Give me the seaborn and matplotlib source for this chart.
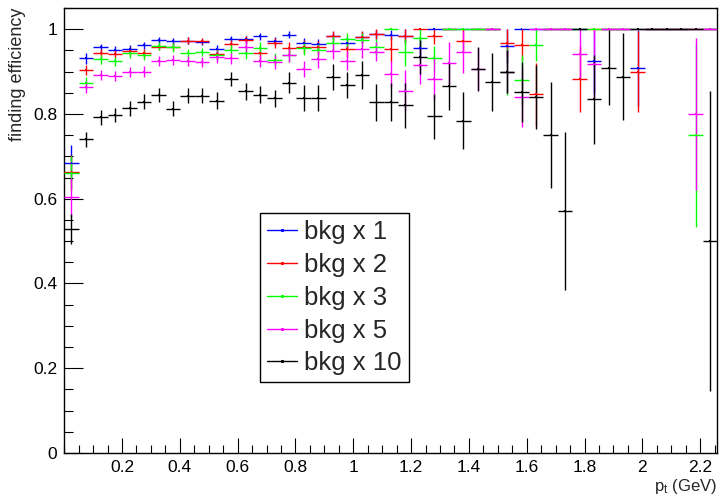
import numpy as np
import pandas as pd
import matplotlib
matplotlib.use("Agg")
import matplotlib.pyplot as plt
import seaborn as sns
from matplotlib.lines import Line2D
from matplotlib.ticker import FixedLocator, MultipleLocator, FuncFormatter

# ---- binning in transverse momentum (GeV) ----
pt_min, pt_max, n_bins = 0.0, 2.26, 45

# ---- track finding efficiency per pt bin, with binomial errors ----
labels = ["bkg x 1", "bkg x 2", "bkg x 3", "bkg x 5", "bkg x 10"]
colors = ["#0000ff", "#ff0000", "#00ff00", "#ff00ff", "#000000"]

eff_x1 = [0.685, 0.931, 0.957, 0.952, 0.954, 0.962, 0.975, 0.971, 0.973, 0.970,
          0.953, 0.976, 0.976, 0.983, 0.972, 0.987, 0.968, 0.966, 0.984, 0.968,
          0.981, 0.988, 0.987, 0.985, 0.955, 1.0, 1.0, 1.0, 1.0, 1.0,
          0.960, 1.0, 1.0, 1.0, 1.0, 1.0, 0.924, 1.0, 1.0, 0.909,
          1.0, 1.0, 1.0, 1.0, 1.0]
err_x1 = [0.042, 0.012, 0.008, 0.008, 0.008, 0.008, 0.007, 0.008, 0.008, 0.008,
          0.010, 0.008, 0.008, 0.008, 0.010, 0.008, 0.012, 0.012, 0.010, 0.013,
          0.012, 0.010, 0.012, 0.015, 0.022, 0, 0, 0, 0, 0,
          0.040, 0, 0, 0, 0, 0, 0.075, 0, 0, 0.090,
          0, 0, 0, 0, 0]

eff_x2 = [0.663, 0.904, 0.943, 0.942, 0.949, 0.943, 0.959, 0.959, 0.973, 0.972,
          0.942, 0.965, 0.974, 0.943, 0.967, 0.955, 0.959, 0.957, 0.984, 0.953,
          0.981, 0.988, 0.953, 0.983, 1.0, 0.983, 1.0, 0.973, 1.0, 1.0,
          0.967, 0.963, 0.846, 1.0, 1.0, 0.883, 1.0, 1.0, 1.0, 0.900,
          1.0, 1.0, 1.0, 1.0, 1.0]
err_x2 = [0.040, 0.012, 0.010, 0.010, 0.010, 0.010, 0.009, 0.009, 0.008, 0.008,
          0.012, 0.010, 0.010, 0.014, 0.012, 0.015, 0.015, 0.015, 0.012, 0.018,
          0.014, 0.012, 0.030, 0.017, 0, 0.017, 0, 0.027, 0, 0,
          0.033, 0.037, 0.075, 0, 0, 0.078, 0, 0, 0, 0.095,
          0, 0, 0, 0, 0]

eff_x3 = [0.661, 0.872, 0.929, 0.924, 0.943, 0.938, 0.961, 0.957, 0.943, 0.946,
          0.939, 0.951, 0.943, 0.956, 0.928, 0.940, 0.955, 0.951, 0.968, 0.976,
          0.975, 0.958, 1.0, 0.945, 0.979, 0.931, 1.0, 1.0, 1.0, 1.0,
          0.900, 0.880, 0.962, 1.0, 1.0, 1.0, 1.0, 1.0, 1.0, 1.0,
          1.0, 1.0, 1.0, 0.750, 1.0]
err_x3 = [0.040, 0.014, 0.010, 0.010, 0.010, 0.010, 0.009, 0.010, 0.010, 0.010,
          0.012, 0.012, 0.014, 0.014, 0.016, 0.017, 0.016, 0.016, 0.016, 0.015,
          0.016, 0.020, 0, 0.033, 0.021, 0.030, 0, 0, 0, 0,
          0.055, 0.060, 0.038, 0, 0, 0, 0, 0, 0, 0,
          0, 0, 0, 0.216, 0]

eff_x5 = [0.603, 0.864, 0.892, 0.890, 0.898, 0.900, 0.924, 0.928, 0.925, 0.923,
          0.935, 0.931, 0.959, 0.925, 0.923, 0.940, 0.906, 0.929, 0.949, 0.926,
          0.953, 0.947, 0.894, 0.855, 0.915, 0.882, 0.920, 0.946, 0.906, 1.0,
          0.900, 0.840, 1.0, 1.0, 1.0, 0.942, 0.917, 1.0, 1.0, 1.0,
          1.0, 1.0, 1.0, 0.800, 1.0]
err_x5 = [0.045, 0.014, 0.012, 0.012, 0.012, 0.012, 0.012, 0.012, 0.012, 0.012,
          0.014, 0.012, 0.013, 0.015, 0.016, 0.017, 0.020, 0.020, 0.020, 0.022,
          0.020, 0.022, 0.030, 0.048, 0.045, 0.050, 0.050, 0.050, 0.050, 0,
          0.050, 0.070, 0, 0, 0, 0.058, 0.083, 0, 0, 0,
          0, 0, 0, 0.180, 0]

eff_x10 = [0.528, 0.740, 0.792, 0.798, 0.813, 0.829, 0.845, 0.812, 0.843, 0.843,
           0.831, 0.882, 0.853, 0.845, 0.837, 0.874, 0.838, 0.838, 0.887, 0.868,
           0.892, 0.827, 0.828, 0.821, 0.935, 0.794, 0.865, 0.784, 0.906, 0.876,
           0.900, 0.852, 0.840, 0.750, 0.571, 1.0, 0.835, 0.909, 0.888, 1.0,
           1.0, 1.0, 1.0, 1.0, 0.500]
err_x10 = [0.035, 0.017, 0.017, 0.017, 0.017, 0.017, 0.017, 0.018, 0.018, 0.018,
           0.020, 0.017, 0.020, 0.020, 0.020, 0.024, 0.030, 0.030, 0.030, 0.030,
           0.032, 0.044, 0.044, 0.053, 0.040, 0.053, 0.055, 0.067, 0.051, 0.068,
           0.050, 0.070, 0.075, 0.125, 0.187, 0, 0.105, 0.088, 0.103, 0,
           0, 0, 0, 0, 0.353]

eff_all = [eff_x1, eff_x2, eff_x3, eff_x5, eff_x10]
err_all = [err_x1, err_x2, err_x3, err_x5, err_x10]

x_ticks = [0.2, 0.4, 0.6, 0.8, 1.0, 1.2, 1.4, 1.6, 1.8, 2.0, 2.2]
y_ticks = [0, 0.2, 0.4, 0.6, 0.8, 1.0]

# ---- long-form table ----
edges = np.linspace(pt_min, pt_max, n_bins + 1)
centers = 0.5 * (edges[:-1] + edges[1:])
half_width = 0.5 * (edges[1] - edges[0])
frames = []
for lab, e, s in zip(labels, eff_all, err_all):
    frames.append(pd.DataFrame({"pt": centers, "eff": e, "err": s, "bkg": lab}))
df = pd.concat(frames, ignore_index=True)

# ---- style ----
sns.set_style("ticks")
plt.rcParams["font.family"] = ["Liberation Sans", "DejaVu Sans"]
plt.rcParams["mathtext.fontset"] = "custom"
plt.rcParams["mathtext.rm"] = "Liberation Sans"
plt.rcParams["mathtext.it"] = "Liberation Sans"

fig = plt.figure(figsize=(7.2, 4.96), dpi=100)
ax = fig.add_axes([0.0892, 0.0867, 0.9073, 0.8972])

for lab, col in zip(labels, colors):
    sub = df[df["bkg"] == lab]
    ax.errorbar(sub["pt"], sub["eff"], xerr=half_width, yerr=sub["err"],
                fmt="none", ecolor=col, elinewidth=1.0, capsize=0, zorder=3)

sns.scatterplot(data=df, x="pt", y="eff", hue="bkg", palette=dict(zip(labels, colors)),
                s=2, linewidth=0, marker="s", legend=False, ax=ax, zorder=4)

ax.set_xlim(pt_min, pt_max)
ax.set_ylim(0, 1.05)

ax.xaxis.set_major_locator(FixedLocator(x_ticks))
ax.xaxis.set_minor_locator(MultipleLocator(0.05))
ax.yaxis.set_major_locator(FixedLocator(y_ticks))
ax.yaxis.set_minor_locator(MultipleLocator(0.05))
fmt = FuncFormatter(lambda v, p: f"{v:g}")
ax.xaxis.set_major_formatter(fmt)
ax.yaxis.set_major_formatter(fmt)

ax.tick_params(axis="both", which="both", direction="in", top=False, right=False,
               colors="black", width=0.8, labelsize=12.5)
ax.tick_params(axis="x", which="major", length=11, pad=5)
ax.tick_params(axis="x", which="minor", length=5.5)
ax.tick_params(axis="y", which="major", length=13.7, pad=5)
ax.tick_params(axis="y", which="minor", length=6.8)

for sp in ax.spines.values():
    sp.set_color("black")
    sp.set_linewidth(1.0)

ax.set_xlabel(r"p$_{\mathrm{t}}$ (GeV)", fontsize=12, loc="right")
ax.xaxis.set_label_coords(1.0, -0.054)
ax.set_ylabel("finding efficiency", fontsize=13, loc="top")
ax.yaxis.set_label_coords(-0.058, 1.0)

handles = [Line2D([], [], color=c, lw=1.0, marker="s", markersize=1.2) for c in colors]
leg = ax.legend(handles, labels, loc="upper left", bbox_to_anchor=(0.2997, 0.539),
                fontsize=18.5, frameon=True, fancybox=False, shadow=False,
                edgecolor="black", framealpha=1.0, borderpad=0.28,
                handlelength=1.15, handletextpad=0.28, labelspacing=0.34,
                borderaxespad=0.0)
leg.get_frame().set_linewidth(1.0)

fig.savefig("out.png", dpi=100)
